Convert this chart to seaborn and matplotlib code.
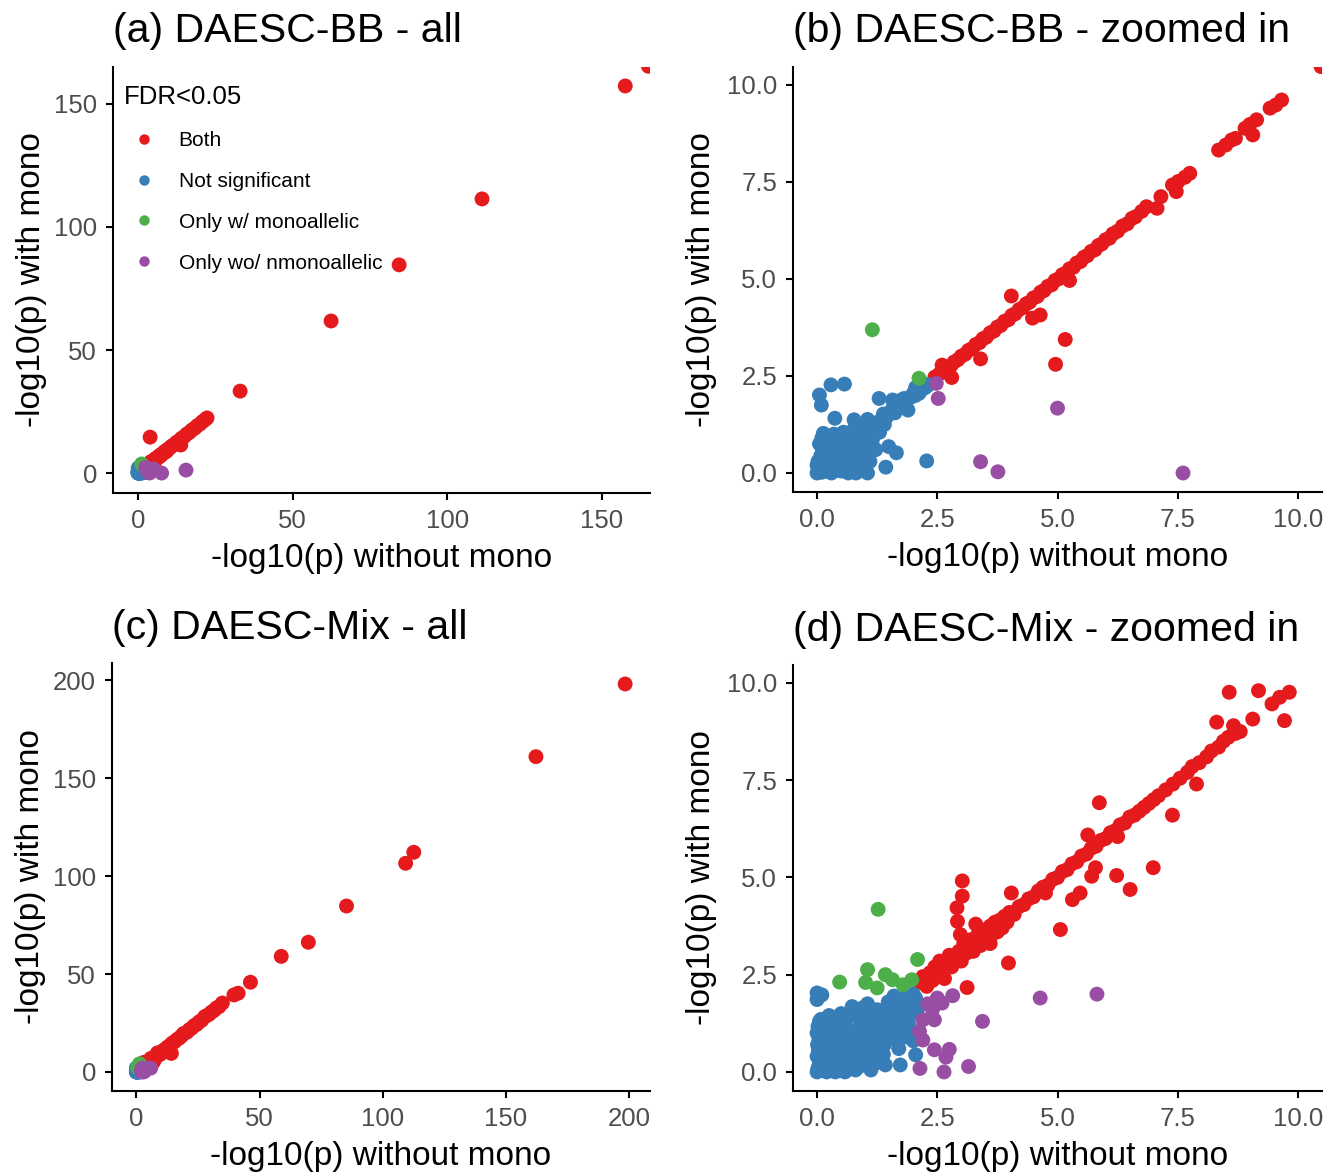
import matplotlib
matplotlib.use("Agg")
import matplotlib.pyplot as plt
import seaborn as sns
import pandas as pd
from matplotlib.lines import Line2D
from matplotlib.ticker import FormatStrFormatter

# ---------------- data ----------------
categories = ["Both", "Not significant", "Only w/ monoallelic", "Only wo/ nmonoallelic"]
colors = ["#E41A1C", "#377EB8", "#4DAF4A", "#984EA3"]

# DAESC-BB
bb_both_x = [2.45, 2.55, 2.62, 2.70, 2.78, 2.85, 2.93, 3.00, 3.08, 3.15, 3.22, 3.30, 3.38, 3.45, 3.52,
             3.60, 3.68, 3.75, 3.82, 3.90, 3.98, 4.05, 4.12, 4.20, 4.28, 4.35, 4.42, 4.50, 4.58, 4.65,
             4.72, 4.80, 4.88, 4.95, 5.02, 5.10, 5.18, 5.25, 5.33, 5.40, 5.48, 5.55, 5.62, 5.70, 5.78,
             5.85, 5.92, 6.00, 6.08, 6.15, 6.25, 6.35, 6.45, 6.55, 6.62,
             6.75, 6.85, 7.15, 7.39, 7.51, 7.65, 7.75, 8.35, 8.50, 8.62, 8.70, 8.90, 9.00, 9.14, 9.42,
             9.54, 9.66, 10.48,
             4.04, 4.48, 4.64, 5.16, 4.96, 3.40, 2.80, 2.60, 5.25, 7.07, 7.47, 9.06,
             10.9, 11.6, 12.3, 13.1, 13.8, 14.0, 14.9, 15.7, 16.5, 17.4, 18.3, 19.1, 20.0, 20.8, 21.6,
             22.3, 3.9, 33.0, 62.4, 84.4, 111.2, 157.5, 165.0]
bb_both_y = [2.47, 2.56, 2.60, 2.72, 2.76, 2.86, 2.92, 3.01, 3.06, 3.16, 3.20, 3.31, 3.36, 3.46, 3.50,
             3.61, 3.66, 3.76, 3.80, 3.91, 3.95, 4.06, 4.10, 4.21, 4.26, 4.36, 4.40, 4.51, 4.55, 4.66,
             4.70, 4.81, 4.85, 4.96, 5.00, 5.11, 5.15, 5.26, 5.30, 5.41, 5.45, 5.56, 5.60, 5.71, 5.75,
             5.86, 5.90, 6.01, 6.05, 6.16, 6.23, 6.36, 6.42, 6.56, 6.60,
             6.74, 6.86, 7.12, 7.42, 7.51, 7.62, 7.72, 8.32, 8.45, 8.58, 8.62, 8.88, 8.98, 9.10, 9.40,
             9.48, 9.61, 10.47,
             4.56, 3.99, 4.07, 3.44, 2.80, 2.94, 2.46, 2.78, 4.96, 6.82, 7.25, 8.71,
             11.0, 11.5, 12.4, 13.0, 11.4, 14.1, 14.8, 15.8, 16.4, 17.5, 18.2, 19.2, 19.9, 20.9, 21.6,
             22.4, 14.6, 33.3, 61.8, 84.6, 111.4, 157.3, 165.3]
bb_ns_x = [0.00, 0.05, 0.10, 0.15, 0.02, 0.20, 0.25, 0.30, 0.35, 0.08, 0.12, 0.40, 0.45, 0.50, 0.55,
           0.60, 0.22, 0.30, 0.05, 0.18, 0.38, 0.48, 0.65, 0.70, 0.75, 0.80, 0.85, 0.90, 0.62, 0.70,
           0.85, 0.95, 1.00, 1.05, 1.10, 1.15, 1.20, 0.55, 0.45, 0.35, 0.25, 0.13, 0.77, 0.80, 0.95,
           1.05, 1.25, 1.35, 1.45, 1.50, 1.57, 1.65, 1.72, 1.57, 1.81, 1.89, 1.95, 2.00, 2.05, 2.12,
           2.18, 2.25, 2.32, 2.20, 1.29, 0.05, 0.09, 0.29, 0.57, 0.37, 1.49, 1.65, 2.28, 1.43, 1.05,
           0.81, 0.00, 0.60, 1.30, 1.40, 0.90, 1.10, 0.15, 0.28, 0.42, 0.68,
           0.05, 0.12, 0.20, 0.27, 0.33, 0.42, 0.52, 0.58, 0.66, 0.72, 0.78, 0.88, 0.95, 1.00, 1.08,
           1.15, 1.22, 0.30, 0.10, 0.48, 0.60, 0.75, 0.92, 1.05, 1.18, 1.30, 1.38, 1.62, 1.75, 2.05]
bb_ns_y = [0.00, 0.10, 0.02, 0.20, 0.30, 0.05, 0.15, 0.00, 0.25, 0.45, 0.60, 0.10, 0.35, 0.05, 0.20,
           0.45, 0.40, 0.55, 0.75, 0.85, 0.70, 0.60, 0.00, 0.25, 0.50, 0.70, 0.15, 0.40, 0.80, 0.95,
           0.90, 0.75, 1.00, 0.55, 0.30, 0.85, 1.10, 1.05, 0.95, 1.00, 0.95, 1.02, 1.37, 1.20, 1.20,
           1.25, 1.30, 1.40, 1.45, 1.55, 1.65, 1.70, 1.75, 1.88, 1.92, 1.62, 1.95, 2.05, 2.00, 2.05,
           2.15, 2.20, 2.27, 2.30, 1.92, 2.01, 1.75, 2.27, 2.29, 1.41, 0.68, 0.52, 0.31, 0.15, 0.00,
           0.00, 0.20, 0.62, 1.05, 1.25, 1.05, 0.70, 0.35, 0.78, 0.48, 0.38,
           0.05, 0.12, 0.28, 0.05, 0.38, 0.22, 0.42, 0.12, 0.66, 0.05, 0.30, 0.55, 0.95, 0.20, 0.90,
           1.15, 0.60, 0.88, 0.90, 0.82, 0.98, 1.10, 1.18, 1.38, 1.25, 1.20, 1.52, 1.55, 1.88, 2.20]
bb_mono_x = [1.15, 2.12]
bb_mono_y = [3.69, 2.44]
bb_nmono_x = [2.52, 2.48, 5.00, 3.40, 3.76, 7.61, 15.5]
bb_nmono_y = [1.92, 2.31, 1.67, 0.29, 0.03, 0.00, 1.2]

# DAESC-Mix
mix_both_x = [2.15, 2.20, 2.28, 2.35, 2.40, 2.45, 2.50, 2.55, 2.60, 2.65, 2.70, 2.75, 2.80, 2.88, 2.95,
              3.00, 3.05, 3.10, 3.15, 3.20, 3.25, 3.30, 3.35, 3.40, 3.45, 3.50, 3.55, 3.60, 3.65, 3.70,
              3.75, 3.80, 3.85, 3.90, 3.95, 4.00, 4.10, 4.20, 4.30, 4.40, 4.50, 4.60, 4.70, 4.80, 4.90,
              5.00, 5.10, 5.20, 5.30, 5.40, 5.50, 5.60, 5.70, 5.80, 5.90, 6.00, 6.10, 6.20, 6.30, 6.40,
              6.50, 6.60, 6.70, 6.80, 6.90, 7.00, 7.10, 7.25, 7.40, 7.55, 7.70, 7.80, 7.95, 8.10, 8.20,
              8.35, 8.45, 8.55, 8.70, 8.80, 9.46, 9.62, 9.82,
              3.02, 3.02, 2.91, 2.92, 2.98, 4.04, 3.98, 3.12, 5.06, 5.31, 5.47, 5.71, 5.79, 6.23, 6.51,
              6.99, 5.87, 5.63, 7.39, 7.89, 8.57, 9.18, 9.72, 8.31, 9.06, 8.66, 3.30, 3.60, 4.75, 6.25,
              11.0, 11.5, 12.5, 13.5, 14.2, 14.5, 15.5, 16.5, 17.5, 18.5, 19.2, 20.5, 21.5, 22.5, 23.5,
              24.5, 25.5, 26.5, 27.7, 28.5, 29.5, 30.5, 31.5, 32.5, 33.5, 34.9, 39.6, 41.3, 46.3, 58.8,
              69.8, 85.3, 109.3, 112.6, 162.2, 198.4]
mix_both_y = [2.30, 2.45, 2.20, 2.55, 2.35, 2.70, 2.50, 2.85, 2.60, 2.40, 2.80, 3.00, 2.70, 2.95, 3.10,
              2.85, 3.30, 3.05, 3.20, 3.40, 3.10, 3.35, 3.55, 3.25, 3.50, 3.65, 3.40, 3.75, 3.55, 3.85,
              3.60, 3.90, 3.70, 4.00, 3.85, 4.10, 4.05, 4.25, 4.30, 4.45, 4.50, 4.65, 4.75, 4.80, 4.95,
              5.00, 5.15, 5.20, 5.35, 5.40, 5.55, 5.60, 5.75, 5.80, 5.95, 6.00, 6.15, 6.20, 6.35, 6.40,
              6.55, 6.60, 6.70, 6.80, 6.90, 7.00, 7.10, 7.25, 7.40, 7.55, 7.70, 7.85, 7.95, 8.10, 8.25,
              8.35, 8.50, 8.60, 8.70, 8.75, 9.46, 9.63, 9.76,
              4.91, 4.52, 4.22, 3.87, 3.53, 4.60, 2.80, 2.17, 3.66, 4.43, 4.60, 5.03, 5.25, 5.05, 4.69,
              5.25, 6.92, 6.09, 6.60, 7.40, 9.76, 9.80, 9.03, 8.99, 9.07, 8.90, 3.80, 3.30, 4.60, 6.05,
              11.1, 11.3, 12.6, 13.4, 9.5, 14.7, 15.4, 16.6, 17.4, 18.6, 19.7, 20.3, 21.6, 22.4, 23.7,
              24.3, 25.6, 26.4, 28.2, 28.7, 29.4, 30.6, 31.4, 32.7, 33.3, 35.2, 39.3, 40.2, 45.8, 59.0,
              66.2, 84.7, 106.5, 112.1, 160.9, 198.0]
mix_ns_x = [0.00, 0.02, 0.05, 0.00, 0.03, 0.01, 0.04, 0.00, 0.02, 0.10, 0.15, 0.12, 0.18, 0.20, 0.25,
            0.28, 0.30, 0.35, 0.22, 0.38, 0.42, 0.45, 0.50, 0.48, 0.55, 0.58, 0.60, 0.65, 0.68, 0.72,
            0.75, 0.78, 0.82, 0.85, 0.88, 0.90, 0.95, 1.00, 1.02, 1.08, 1.10, 1.15, 1.20, 1.22, 1.28,
            1.30, 1.35, 1.40, 1.45, 1.50, 1.55, 1.58, 1.62, 1.68, 1.72, 1.75, 1.80, 1.85, 1.88, 1.92,
            1.95, 2.00, 2.02, 2.05, 2.08, 0.30, 0.20, 0.45, 0.55, 0.65, 0.80, 0.95, 1.05, 0.73, 0.00,
            0.10, 0.00, 1.73, 1.42, 1.21, 2.05, 1.60, 1.85, 1.70, 1.95, 0.40, 0.62, 0.15, 1.12, 0.98,
            1.38, 0.08, 0.32, 0.52, 0.70, 1.25, 1.48, 1.60, 1.90, 2.00,
            0.05, 0.12, 0.08, 0.25, 0.35, 0.40, 0.50, 0.60, 0.70, 0.80, 0.85, 0.95, 1.05, 1.15, 1.20,
            1.30, 1.40, 1.50, 1.55, 1.65, 1.75, 1.80, 1.90, 2.05, 0.25, 0.50, 0.35, 0.18, 1.00, 1.15,
            0.90, 0.65, 0.55, 1.35, 1.70, 0.20, 0.05]
mix_ns_y = [0.00, 0.10, 0.25, 0.40, 0.55, 0.70, 0.85, 1.00, 1.17, 0.05, 0.20, 0.45, 0.65, 0.00, 0.30,
            0.10, 0.50, 0.80, 0.95, 0.00, 0.20, 0.40, 0.60, 0.10, 0.30, 0.00, 0.75, 0.50, 0.20, 0.90,
            1.05, 0.35, 0.60, 1.10, 0.80, 0.15, 1.20, 0.95, 0.45, 1.35, 0.70, 1.10, 1.45, 0.90, 1.25,
            0.60, 1.55, 1.30, 1.00, 1.65, 1.40, 1.20, 1.75, 1.50, 1.85, 1.30, 1.60, 1.95, 1.75, 1.45,
            1.85, 2.00, 1.70, 1.90, 1.55, 1.20, 1.25, 1.30, 1.15, 1.40, 1.55, 1.65, 1.75, 1.68, 2.03,
            1.98, 1.86, 0.18, 0.18, 0.22, 0.44, 0.85, 0.90, 0.60, 1.10, 0.65, 0.05, 0.85, 0.05, 0.25,
            0.45, 1.35, 0.28, 0.85, 0.62, 1.60, 1.80, 1.95, 1.25, 0.80,
            0.05, 0.30, 0.60, 0.70, 0.45, 1.00, 0.25, 0.50, 0.30, 0.05, 0.40, 0.60, 0.80, 0.40, 1.00,
            0.85, 0.70, 1.20, 0.95, 1.25, 1.05, 1.40, 1.65, 1.75, 1.45, 1.50, 0.15, 0.40, 1.40, 1.60,
            1.35, 0.90, 0.70, 1.10, 1.70, 1.05, 1.30]
mix_mono_x = [1.27, 0.47, 1.05, 1.01, 1.25, 1.42, 1.57, 1.79, 2.09, 1.97]
mix_mono_y = [4.18, 2.31, 2.63, 2.30, 2.16, 2.50, 2.37, 2.24, 2.89, 2.37]
mix_nmono_x = [4.64, 5.82, 3.44, 2.82, 2.60, 2.40, 2.44, 2.20, 2.13, 2.20, 2.44, 2.75, 2.68, 2.14, 2.64,
               3.15, 2.30, 2.50]
mix_nmono_y = [1.90, 2.00, 1.30, 1.96, 1.77, 1.60, 1.34, 1.34, 1.04, 0.82, 0.57, 0.58, 0.38, 0.09, 0.00,
               0.14, 1.75, 1.90]

titles = ["(a) DAESC-BB - all", "(b) DAESC-BB - zoomed in",
          "(c) DAESC-Mix - all", "(d) DAESC-Mix - zoomed in"]
xlabel = "-log10(p) without mono"
ylabel = "-log10(p) with mono"


def make_df(groups):
    frames = []
    for cat, (xs, ys) in zip(categories, groups):
        frames.append(pd.DataFrame({"x": xs, "y": ys, "FDR": cat}))
    return pd.concat(frames, ignore_index=True)


df_bb = make_df([(bb_both_x, bb_both_y), (bb_ns_x, bb_ns_y),
                 (bb_mono_x, bb_mono_y), (bb_nmono_x, bb_nmono_y)])
df_mix = make_df([(mix_both_x, mix_both_y), (mix_ns_x, mix_ns_y),
                  (mix_mono_x, mix_mono_y), (mix_nmono_x, mix_nmono_y)])

# ---------------- style ----------------
sns.set_style("ticks")
plt.rcParams["font.family"] = ["Liberation Sans", "DejaVu Sans"]
palette = dict(zip(categories, colors))

W, H = 1338, 1175
fig = plt.figure(figsize=(W / 100, H / 100), dpi=100)


def add_ax(l, r, t, b):
    return fig.add_axes([l / W, 1 - b / H, (r - l) / W, (b - t) / H])


boxes = [(113, 650, 67, 493), (793, 1322, 67, 492), (112, 650, 663, 1091), (793, 1322, 665, 1091)]
datas = [df_bb, df_bb, df_mix, df_mix]
lims = [((-8.1, 165.5), (-8.1, 165.0)), ((-0.5, 10.5), (-0.49, 10.46)),
        ((-9.9, 208.5), (-9.7, 208.7)), ((-0.5, 10.5), (-0.49, 10.46))]
ticks = [[0, 50, 100, 150], [0, 2.5, 5, 7.5, 10], [0, 50, 100, 150, 200], [0, 2.5, 5, 7.5, 10]]
tpads = [18, 18, 17, 17]
ylpads = [5, 7, 5, 7]

for i, (box, d, (xl, yl), tk) in enumerate(zip(boxes, datas, lims, ticks)):
    ax = add_ax(*box)
    sns.scatterplot(data=d, x="x", y="y", hue="FDR", hue_order=categories, palette=palette,
                    s=115, linewidth=0, alpha=1, legend=False, ax=ax)
    ax.set_xlim(*xl)
    ax.set_ylim(*yl)
    ax.set_xticks(tk)
    ax.set_yticks(tk)
    if i in (1, 3):
        ax.xaxis.set_major_formatter(FormatStrFormatter("%.1f"))
        ax.yaxis.set_major_formatter(FormatStrFormatter("%.1f"))
    for sp in ["top", "right"]:
        ax.spines[sp].set_visible(False)
    for sp in ["left", "bottom"]:
        ax.spines[sp].set_linewidth(1.5)
        ax.spines[sp].set_color("black")
    ax.tick_params(axis="both", length=5, width=1.5, color="black", labelsize=18.5,
                   labelcolor="#4D4D4D", pad=6.5)
    ax.set_xlabel(xlabel, fontsize=24, color="black", labelpad=7)
    ax.set_ylabel(ylabel, fontsize=24, color="black", labelpad=ylpads[i])
    ax.set_title(titles[i], loc="left", fontsize=29.5, pad=tpads[i], color="black")

    if i == 0:
        handles = [Line2D([0], [0], marker="o", linestyle="", markersize=7.5,
                          markerfacecolor=c, markeredgewidth=0) for c in colors]
        leg = ax.legend(handles, categories, title="FDR<0.05", loc="upper left",
                        bbox_to_anchor=(0.004, 0.978), frameon=False, fontsize=15,
                        title_fontsize=18.5, handlelength=2.0, handletextpad=0.65,
                        labelspacing=1.05, borderpad=0.4, borderaxespad=0, alignment="left",
                        labelcolor="black")
        leg.get_title().set_color("black")
        leg._legend_box.sep = 16

fig.savefig("out.png", dpi=100)
